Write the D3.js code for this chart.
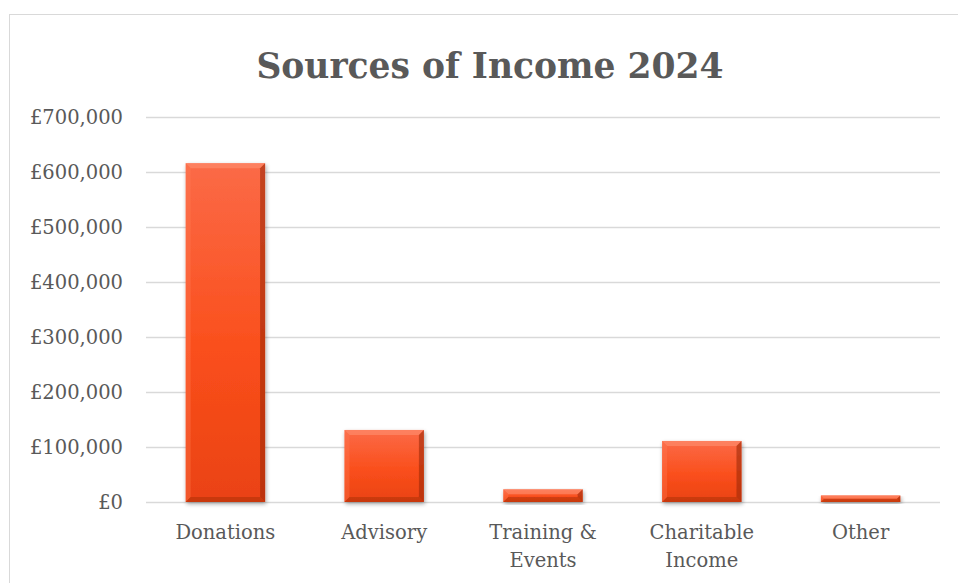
<!DOCTYPE html>
<html>
<head>
<meta charset="utf-8">
<script src="https://cdn.jsdelivr.net/npm/d3@7"></script>
<style>
  html, body { margin: 0; padding: 0; background: #fff; }
  svg { display: block; }
  text { font-family: "DejaVu Serif", serif; fill: #595959; }
</style>
</head>
<body>
<script>
// Income by source, 2024 (GBP)
const categories = ["Donations", "Advisory", "Training & Events", "Charitable Income", "Other"];
const categoryLines = [["Donations"], ["Advisory"], ["Training &", "Events"], ["Charitable", "Income"], ["Other"]];
const income = [616000, 131000, 23000, 111000, 12000];
const tickValues = [0, 100000, 200000, 300000, 400000, 500000, 600000, 700000];

const W = 958, H = 583;
const margin = { left: 146, right: 18, top: 117, bottom: 81 };

const svg = d3.select("body").append("svg").attr("width", W).attr("height", H);

// chart area frame
svg.append("rect")
  .attr("x", 9.5).attr("y", 14.5)
  .attr("width", W + 10).attr("height", H + 10)
  .attr("fill", "none").attr("stroke", "#d9d9d9").attr("stroke-width", 1);

const x = d3.scaleBand()
  .domain(categories)
  .range([margin.left, W - margin.right])
  .paddingInner(0.5).paddingOuter(0.25);

const y = d3.scaleLinear()
  .domain([0, 700000])
  .range([H - margin.bottom, margin.top]);

const gbp = v => "£" + d3.format(",")(v);

// gridlines
svg.append("g")
  .selectAll("line").data(tickValues).join("line")
  .attr("x1", margin.left).attr("x2", W - margin.right)
  .attr("y1", d => Math.round(y(d)) + 0.5).attr("y2", d => Math.round(y(d)) + 0.5)
  .attr("stroke", "#d9d9d9").attr("stroke-width", 1.3);

// value axis
const yAxis = svg.append("g")
  .attr("transform", `translate(${margin.left - 23},0)`)
  .call(d3.axisLeft(y).tickValues(tickValues).tickFormat(gbp).tickSize(0).tickPadding(0));
yAxis.select(".domain").remove();
yAxis.selectAll("text").style("font-size", "19.5px").attr("fill", "#595959").attr("dy", "0.35em");

// category axis
const xAxis = svg.append("g")
  .attr("transform", `translate(0,${H - margin.bottom})`)
  .call(d3.axisBottom(x).tickSize(0).tickFormat(""));
xAxis.select(".domain").remove();
xAxis.selectAll(".tick").each(function(d, i) {
  const t = d3.select(this).append("text")
    .attr("text-anchor", "middle")
    .style("font-size", "19.5px")
    .attr("fill", "#595959");
  categoryLines[i].forEach((line, j) => {
    t.append("tspan").attr("x", 0).attr("y", 37 + j * 28).text(line);
  });
});

// bar shading
const defs = svg.append("defs");
const grad = defs.append("linearGradient").attr("id", "barFill")
  .attr("x1", 0).attr("y1", 0).attr("x2", 0).attr("y2", 1);
grad.append("stop").attr("offset", "0%").attr("stop-color", "#fb6a47");
grad.append("stop").attr("offset", "55%").attr("stop-color", "#fa4f1c");
grad.append("stop").attr("offset", "100%").attr("stop-color", "#ea4212");

const shadow = defs.append("filter").attr("id", "barShadow")
  .attr("x", "-20%").attr("y", "-20%").attr("width", "140%").attr("height", "140%");
shadow.append("feGaussianBlur").attr("in", "SourceAlpha").attr("stdDeviation", 2).attr("result", "b");
shadow.append("feOffset").attr("in", "b").attr("dx", 1).attr("dy", 2).attr("result", "o");
shadow.append("feComponentTransfer").attr("in", "o").attr("result", "s")
  .append("feFuncA").attr("type", "linear").attr("slope", 0.35);
const merge = shadow.append("feMerge");
merge.append("feMergeNode").attr("in", "s");
merge.append("feMergeNode").attr("in", "SourceGraphic");

const bars = svg.append("g").selectAll("g").data(income).join("g")
  .attr("filter", "url(#barShadow)");

bars.each(function(v, i) {
  const g = d3.select(this);
  const x0 = x(categories[i]), x1 = x0 + x.bandwidth();
  const y0 = y(v), y1 = y(0);
  const b = Math.min(5, (y1 - y0) / 2);
  g.append("rect")
    .attr("x", x0).attr("y", y0).attr("width", x1 - x0).attr("height", y1 - y0)
    .attr("fill", "url(#barFill)");
  const pts = a => a.map(p => p.join(",")).join(" ");
  // bevelled edges
  g.append("polygon").attr("points", pts([[x0, y0], [x1, y0], [x1 - b, y0 + b], [x0 + b, y0 + b]]))
    .attr("fill", "#ff8f70").attr("opacity", 0.6);
  g.append("polygon").attr("points", pts([[x0, y0], [x0 + b, y0 + b], [x0 + b, y1 - b], [x0, y1]]))
    .attr("fill", "#ff7a55").attr("opacity", 0.35);
  g.append("polygon").attr("points", pts([[x1, y0], [x1, y1], [x1 - b, y1 - b], [x1 - b, y0 + b]]))
    .attr("fill", "#9e2a08").attr("opacity", 0.6);
  g.append("polygon").attr("points", pts([[x0, y1], [x0 + b, y1 - b], [x1 - b, y1 - b], [x1, y1]]))
    .attr("fill", "#a83009").attr("opacity", 0.5);
});

// title
svg.append("text")
  .attr("x", 490).attr("y", 78)
  .attr("text-anchor", "middle")
  .style("font-size", "34.5px").style("font-weight", "bold")
  .attr("fill", "#595959")
  .text("Sources of Income 2024");
</script>
</body>
</html>
